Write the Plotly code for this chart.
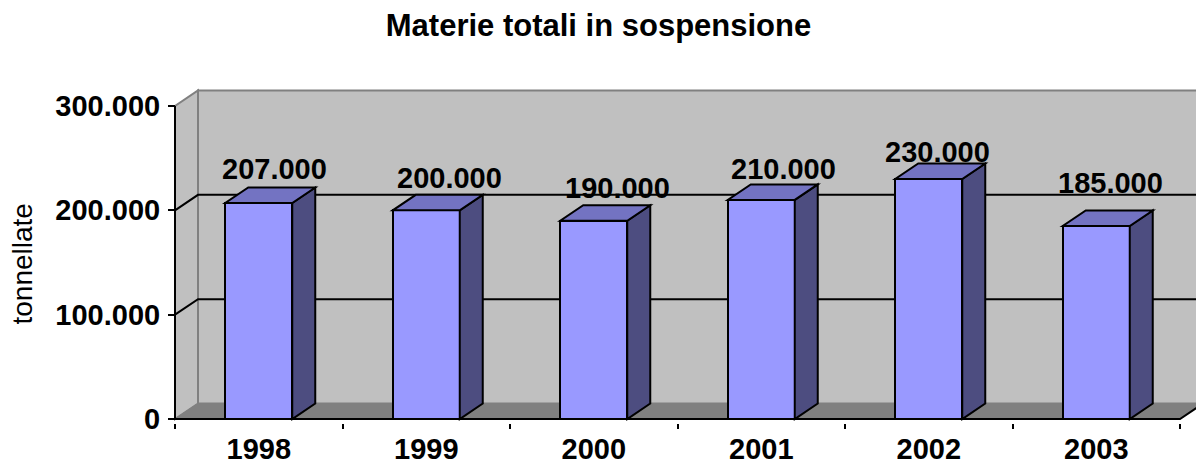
import plotly.graph_objects as go

# ---- data ----
years = ["1998", "1999", "2000", "2001", "2002", "2003"]
values = [207000, 200000, 190000, 210000, 230000, 185000]
y_ticks = [0, 100000, 200000, 300000]
title_text = "Materie totali in sospensione"
y_title = "tonnellate"

# ---- label placement (pixel offsets from the top of each bar's front face) ----
label_xshift = [16, 23, 24, 22, 9, 14]
label_yshift = [34, 32, 33, 31, 27, 43]

# ---- geometry / style ----
OFF = 8                      # page body margin of the html page
W, H = 1204 - OFF, 463 - OFF
UNIT_X = 167.5               # px per category
PX_Y = 313 / 300000          # px per value unit
DX_PX, DY_PX = 23, 15.5      # 3D depth offset in px
DX = DX_PX / UNIT_X
DY = DY_PX / PX_Y
BAR_W = 0.4
YMAX = 300000

FRONT_X0_PX = 175 - OFF
FRONT_Y0_PX = 419 - OFF
PAD_L = 7
L = FRONT_X0_PX - PAD_L
PW = W - L
XR = [-0.5 - PAD_L / UNIT_X, -0.5 + (W - FRONT_X0_PX) / UNIT_X]
PAD_B = 4
B = H - FRONT_Y0_PX - PAD_B
T = 88 - OFF
plot_h = H - T - B
YR = [-PAD_B / PX_Y, -PAD_B / PX_Y + plot_h / PX_Y]

FRONT = "#9999FF"
TOP = "#7373C2"
SIDE = "#4D4D80"
WALL = "#C0C0C0"
FLOOR = "#808080"
EDGE = "#808080"
FONT = "Liberation Sans, Arial, sans-serif"

n = len(years)
xs = list(range(n))
x_left = -0.5
x_right = n - 0.5

fig = go.Figure()

shapes = []
def path(pts):
    return "M " + " L ".join(f"{x},{y}" for x, y in pts) + " Z"
def opath(pts):
    return "M " + " L ".join(f"{x},{y}" for x, y in pts)

# walls & floor
shapes.append(dict(type="path", xref="x", yref="y", layer="below",
                   path=path([(x_left + DX, DY), (x_right + DX, DY), (x_right + DX, YMAX + DY), (x_left + DX, YMAX + DY)]),
                   fillcolor=WALL, line=dict(color=EDGE, width=2)))
shapes.append(dict(type="path", xref="x", yref="y", layer="below",
                   path=path([(x_left, 0), (x_left, YMAX), (x_left + DX, YMAX + DY), (x_left + DX, DY)]),
                   fillcolor=WALL, line=dict(color=EDGE, width=2)))
shapes.append(dict(type="path", xref="x", yref="y", layer="below",
                   path=path([(x_left, 0), (x_left + DX, DY), (x_right + DX, DY), (x_right, 0)]),
                   fillcolor=FLOOR, line=dict(color=EDGE, width=1)))
# gridlines
for g in y_ticks[1:-1]:
    shapes.append(dict(type="path", xref="x", yref="y", layer="below",
                       path=opath([(x_left, g), (x_left + DX, g + DY), (x_right + DX, g + DY)]),
                       line=dict(color="black", width=2)))
# front axis lines
shapes.append(dict(type="path", xref="x", yref="y", layer="above",
                   path=opath([(x_left, YMAX), (x_left, 0), (x_right, 0), (x_right + DX, DY)]),
                   line=dict(color="black", width=2)))

# bars: top and side faces
for i, v in zip(xs, values):
    xl, xr = i - BAR_W / 2, i + BAR_W / 2
    shapes.append(dict(type="path", xref="x", yref="y", layer="above",
                       path=path([(xr, 0), (xr, v), (xr + DX, v + DY), (xr + DX, DY)]),
                       fillcolor=SIDE, line=dict(color="black", width=2)))
    shapes.append(dict(type="path", xref="x", yref="y", layer="above",
                       path=path([(xl, v), (xr, v), (xr + DX, v + DY), (xl + DX, v + DY)]),
                       fillcolor=TOP, line=dict(color="black", width=2)))

fig.add_trace(go.Bar(x=xs, y=values, width=BAR_W, marker=dict(color=FRONT, line=dict(color="black", width=2)),
                     hoverinfo="skip", showlegend=False))
# dummy trace for tick-mark axis
fig.add_trace(go.Scatter(x=[x_left, x_right], y=[0, 0], xaxis="x2", mode="lines",
                         line=dict(color="rgba(0,0,0,0)"), hoverinfo="skip", showlegend=False))

annotations = []
for i, v, dxs, dys in zip(xs, values, label_xshift, label_yshift):
    annotations.append(dict(x=i, y=v, xref="x", yref="y", text=f"{v:,}".replace(",", "."),
                            showarrow=False, xanchor="center", yanchor="middle",
                            xshift=dxs, yshift=dys,
                            font=dict(family=FONT, size=29, color="black", weight="bold")))
annotations.append(dict(x=(21.5 - OFF - L) / PW, y=(H - B - (264 - OFF)) / plot_h, xref="paper", yref="paper",
                        text=y_title, showarrow=False, textangle=-90, xanchor="center", yanchor="middle",
                        font=dict(family=FONT, size=28, color="black")))

fig.update_layout(
    width=W, height=H,
    margin=dict(l=L, r=0, t=T, b=B, pad=0, autoexpand=False),
    paper_bgcolor="white", plot_bgcolor="white",
    separators=",.",
    title=dict(text=title_text, x=(598.5 - OFF) / W, xanchor="center", y=1 - (25 - OFF) / H, yanchor="middle",
               xref="container", yref="container", automargin=False,
               font=dict(family=FONT, size=31, color="black", weight="bold")),
    shapes=shapes, annotations=annotations,
    xaxis=dict(range=XR, tickvals=xs, ticktext=years, ticks="", ticklabelstandoff=6, automargin=False,
               showgrid=False, zeroline=False, showline=False,
               tickfont=dict(family=FONT, size=29, color="black", weight="bold")),
    xaxis2=dict(range=XR, overlaying="x", anchor="y", side="bottom", automargin=False,
                tickvals=[k - 0.5 for k in range(n + 1)], ticks="outside", ticklen=5, tickwidth=2,
                tickcolor="black", showticklabels=False, showgrid=False, zeroline=False, showline=False),
    yaxis=dict(range=YR, tickvals=y_ticks, tickformat=",d", ticks="outside", ticklen=7, tickwidth=2,
               tickcolor="black", showgrid=False, zeroline=False, showline=False, automargin=False,
               anchor="free", position=PAD_L / PW, ticklabelstandoff=2,
               tickfont=dict(family=FONT, size=29, color="black", weight="bold")),
    bargap=0,
)

fig.write_html("out.html")
